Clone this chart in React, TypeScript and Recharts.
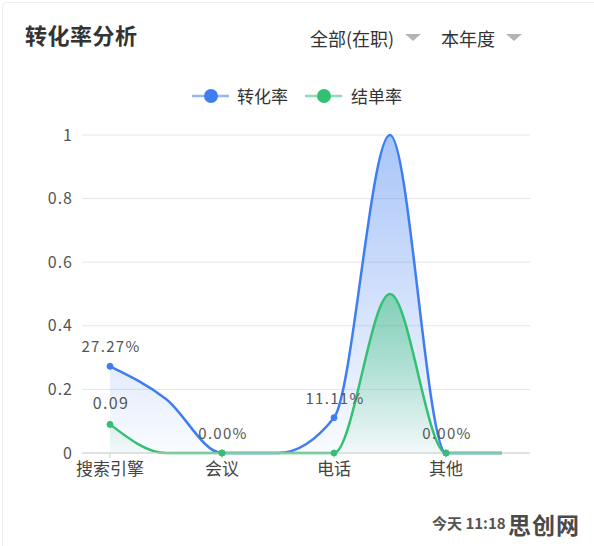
import React from "react";
import { ComposedChart, Area, XAxis, YAxis, CartesianGrid } from "recharts";

const categories = ["搜索引擎", "搜索引擎·会议", "会议", "会议·电话", "电话", "电话·其他", "其他", "其他·末"];
const conversionRate = [0.2727, 0.17, 0, 0, 0.1111, 1, 0, 0];
const closingRate = [0.09, 0, 0, 0, 0, 0.5, 0, 0];
const yTicks = [0, 0.2, 0.4, 0.6, 0.8, 1];
const seriesNames = ["转化率", "结单率"];

const BLUE = "#3f7ef0";
const GREEN = "#33c072";
const FONT = "'Noto Sans CJK SC', 'Noto Sans', sans-serif";

const data = categories.map((c, i) => ({
  name: c,
  conv: conversionRate[i],
  close: closingRate[i],
}));

const makeDot = (color: string) => (props: any) => {
  const { cx, cy, index } = props;
  if (index % 2 !== 0 || cx == null || cy == null) return <g key={`d-${color}-${index}`} />;
  return <circle key={`d-${color}-${index}`} cx={cx} cy={cy} r={3} fill={color} stroke={color} />;
};

const blueLabel = (props: any) => {
  const { x, y, value, index } = props;
  if (index % 2 !== 0) return null;
  return (
    <text key={`bl-${index}`} x={x + 1} y={y - 14} textAnchor="middle" fontSize={15} letterSpacing={1.3} fill="#555" fontFamily={FONT}>
      {(Number(value) * 100).toFixed(2) + "%"}
    </text>
  );
};

const greenLabel = (props: any) => {
  const { x, y, value, index } = props;
  if (index !== 0) return null;
  return (
    <text key={`gl-${index}`} x={x + 1} y={y - 15} textAnchor="middle" fontSize={16} letterSpacing={1.3} fill="#555" fontFamily={FONT}>
      {Number(value).toFixed(2)}
    </text>
  );
};

const LegendItem = ({ color, iconLeft, textLeft, label }: { color: string; iconLeft: number; textLeft: number; label: string }) => (
  <>
    <svg width={38} height={16} style={{ position: "absolute", left: iconLeft, top: 88 }}>
      <line x1={0} y1={8} x2={37} y2={8} stroke={color} strokeWidth={2.5} opacity={0.55} />
      <circle cx={19} cy={8} r={7} fill={color} />
    </svg>
    <div style={{ position: "absolute", left: textLeft, top: 85, fontSize: 17, color: "#333", lineHeight: "22px" }}>{label}</div>
  </>
);

const Triangle = ({ left }: { left: number }) => (
  <div
    style={{
      position: "absolute",
      left,
      top: 34,
      width: 0,
      height: 0,
      borderLeft: "8px solid transparent",
      borderRight: "8px solid transparent",
      borderTop: "7px solid #b5b5b5",
    }}
  />
);

export default function App() {
  return (
    <div
      style={{
        position: "absolute",
        left: 0,
        top: 0,
        width: 594,
        height: 546,
        background: "#fff",
        fontFamily: FONT,
        overflow: "hidden",
      }}
    >
      <div style={{ position: "absolute", left: 2, top: 2, width: 600, height: 560, border: "1px solid #eee", borderRadius: 4 }} />
      <div style={{ position: "absolute", left: 25, top: 20, fontSize: 22, fontWeight: 700, color: "#333", lineHeight: "28px", letterSpacing: 0.5 }}>转化率分析</div>
      <div style={{ position: "absolute", left: 310, top: 26, fontSize: 18, color: "#333", lineHeight: "24px" }}>全部(在职)</div>
      <Triangle left={405} />
      <div style={{ position: "absolute", left: 441, top: 26, fontSize: 18, color: "#333", lineHeight: "24px" }}>本年度</div>
      <Triangle left={506} />
      <LegendItem color={BLUE} iconLeft={192} textLeft={237} label={seriesNames[0]} />
      <LegendItem color={GREEN} iconLeft={305} textLeft={351} label={seriesNames[1]} />
      <div style={{ position: "absolute", left: 0, top: 0 }}>
        <ComposedChart width={594} height={500} data={data} margin={{ top: 135, right: 64, left: 0, bottom: 0 }}>
          <defs>
            <linearGradient id="gBlue" x1="0" y1="0" x2="0" y2="1">
              <stop offset="0%" stopColor={BLUE} stopOpacity={0.75} />
              <stop offset="100%" stopColor={BLUE} stopOpacity={0.05} />
            </linearGradient>
            <linearGradient id="gGreen" x1="0" y1="0" x2="0" y2="1">
              <stop offset="0%" stopColor={GREEN} stopOpacity={0.85} />
              <stop offset="100%" stopColor={GREEN} stopOpacity={0.05} />
            </linearGradient>
          </defs>
          <CartesianGrid vertical={false} stroke="#e6e6e6" />
          <XAxis
            dataKey="name"
            interval={1}
            height={47}
            padding={{ left: 28, right: 28 }}
            axisLine={{ stroke: "#d0d0d0" }}
            tickLine={{ stroke: "#d0d0d0" }}
            tickSize={5}
            tickMargin={5}
            tick={{ fontSize: 17, fill: "#444", fontFamily: FONT }}
          />
          <YAxis
            domain={[0, 1]}
            ticks={yTicks}
            width={82}
            axisLine={false}
            tickLine={false}
            tickMargin={3}
            tick={{ fontSize: 16, fill: "#555", fontFamily: FONT, letterSpacing: 1 }}
          />
          <Area
            type="monotone"
            dataKey="conv"
            name={seriesNames[0]}
            stroke={BLUE}
            strokeWidth={2.5}
            fill="url(#gBlue)"
            dot={makeDot(BLUE)}
            activeDot={false}
            label={blueLabel}
            isAnimationActive={false}
          />
          <Area
            type="monotone"
            dataKey="close"
            name={seriesNames[1]}
            stroke={GREEN}
            strokeWidth={2.5}
            fill="url(#gGreen)"
            dot={makeDot(GREEN)}
            activeDot={false}
            label={greenLabel}
            isAnimationActive={false}
          />
        </ComposedChart>
      </div>
      <div style={{ position: "absolute", left: 432, top: 512, fontSize: 15, fontWeight: 700, color: "#555" }}>今天 11:18</div>
      <div style={{ position: "absolute", left: 508, top: 507, fontSize: 23, fontWeight: 700, color: "#4a4a4a", letterSpacing: 1 }}>思创网</div>
    </div>
  );
}
